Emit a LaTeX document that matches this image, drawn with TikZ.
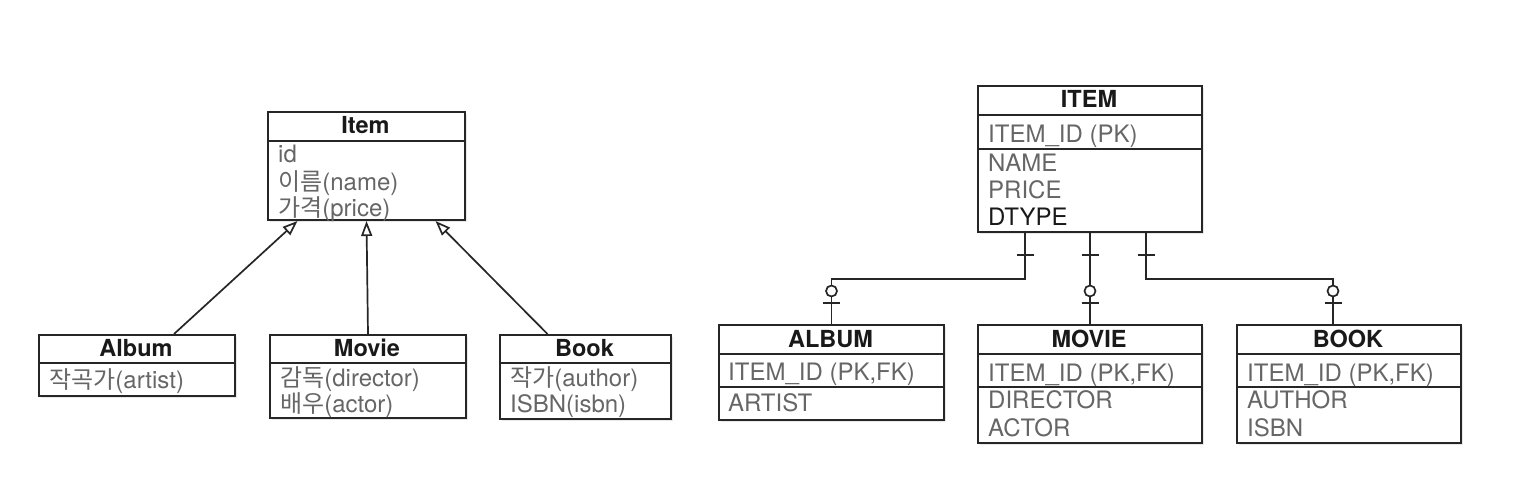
\documentclass[tikz,border=0pt]{standalone}
\usepackage{fontspec}
\setmainfont{TeX Gyre Heros}
\newfontfamily\kor{Noto Sans CJK KR}
\usetikzlibrary{arrows.meta, shadows}

\tikzset{
    tbl/.style={draw=black!85, line width=2pt, fill=white, anchor=north west, inner sep=0pt,
        drop shadow={opacity=0.18, shadow xshift=1.5pt, shadow yshift=-2pt}},
    rowline/.style={draw=black!85, line width=2pt},
    hdr/.style={anchor=base, inner sep=0pt, font=\fontsize{23.5}{28}\selectfont\bfseries, text=black!90},
    attr/.style={anchor=base west, inner sep=0pt, font=\fontsize{24}{28}\selectfont, text=black!60},
    gen/.style={draw=black!85, line width=1.7pt, -{Triangle[open, length=15pt, width=11pt, fill=white]}},
    rel/.style={draw=black!85, line width=1.7pt}
}

\begin{document}
\begin{tikzpicture}[x=1pt, y=-1pt]
        \useasboundingbox (0,0) rectangle (1532,480);
        \fill[white] (0,0) rectangle (1532,480);

        % class diagram
        \node[tbl, minimum width=197, minimum height=108] (item) at (267,111) {};
        \draw[rowline] (267,141) -- (464,141);
        \node[hdr] (itemh) at (365.5,133) {Item};
        \node[attr] (itema) at (278,162) {id};
        \node[attr] (itemb) at (278,190) {{\kor 이름}(name)};
        \node[attr] (itemc) at (278,216) {{\kor 가격}(price)};

        \node[tbl, minimum width=196, minimum height=61] (album) at (38,334) {};
        \draw[rowline] (38,363) -- (234,363);
        \node[hdr] (albumh) at (136,356) {Album};
        \node[attr] (albuma) at (49,388) {{\kor 작곡가}(artist)};

        \node[tbl, minimum width=196, minimum height=83] (movie) at (269,334) {};
        \draw[rowline] (269,363) -- (465,363);
        \node[hdr] (movieh) at (367,356) {Movie};
        \node[attr] (moviea) at (280,386) {{\kor 감독}(director)};
        \node[attr] (movieb) at (280,412) {{\kor 배우}(actor)};

        \node[tbl, minimum width=171, minimum height=84] (book) at (499,334) {};
        \draw[rowline] (499,363) -- (670,363);
        \node[hdr] (bookh) at (584.5,356) {Book};
        \node[attr] (booka) at (510,386) {{\kor 작가}(author)};
        \node[attr] (bookb) at (510,412) {ISBN(isbn)};

        \draw[gen] ([xshift=37pt]album.north) -- ([xshift=-69pt]item.south);
        \draw[gen] (movie.north) -- (item.south);
        \draw[gen] ([xshift=-38pt]book.north) -- ([xshift=69pt]item.south);

        % table diagram
        \node[tbl, minimum width=224, minimum height=146] (eitem) at (977,85) {};
        \draw[rowline] (977,115) -- (1201,115)
            (977,149) -- (1201,149);
        \node[hdr] (eitemh) at (1089,107) {ITEM};
        \node[attr] (eitema) at (988,142) {ITEM\_ID (PK)};
        \node[attr] (eitemb) at (988,171) {NAME};
        \node[attr] (eitemc) at (988,198) {PRICE};
        \node[attr, text=black!90] (eitemd) at (988,225) {DTYPE};

        \node[tbl, minimum width=225, minimum height=95] (ealbum) at (718,324) {};
        \draw[rowline] (718,354) -- (943,354)
            (718,387) -- (943,387);
        \node[hdr] (ealbumh) at (830.5,347) {ALBUM};
        \node[attr] (ealbuma) at (728,380) {ITEM\_ID (PK,FK)};
        \node[attr] (ealbumb) at (728,411) {ARTIST};

        \node[tbl, minimum width=224, minimum height=118] (emovie) at (977,324) {};
        \draw[rowline] (977,354) -- (1201,354)
            (977,387) -- (1201,387);
        \node[hdr] (emovieh) at (1089,347) {MOVIE};
        \node[attr] (emoviea) at (988,381) {ITEM\_ID (PK,FK)};
        \node[attr] (emovieb) at (988,408) {DIRECTOR};
        \node[attr] (emoviec) at (988,436) {ACTOR};

        \node[tbl, minimum width=224, minimum height=118] (ebook) at (1236,324) {};
        \draw[rowline] (1236,354) -- (1460,354)
            (1236,387) -- (1460,387);
        \node[hdr] (ebookh) at (1348,347) {BOOK};
        \node[attr] (ebooka) at (1247,381) {ITEM\_ID (PK,FK)};
        \node[attr] (ebookb) at (1247,408) {AUTHOR};
        \node[attr] (ebookc) at (1247,436) {ISBN};

        \coordinate (pA) at ([xshift=-65pt]eitem.south);
        \coordinate (pM) at (eitem.south);
        \coordinate (pB) at ([xshift=56pt]eitem.south);
        \coordinate (cA) at (ealbum.north);
        \coordinate (cM) at (emovie.north);
        \coordinate (cB) at ([xshift=-16pt]ebook.north);

        \draw[rel] (pA) -- ++(0,46) -| (cA)
            (pM) -- (cM)
            (pB) -- ++(0,46) -| (cB);
        \foreach \p in {pA, pM, pB}
            \draw[rel] ([xshift=-8.5pt, yshift=-22pt]\p) -- ++(17,0);
        \foreach \c in {cA, cM, cB} {
            \draw[rel] ([xshift=-8.5pt, yshift=21pt]\c) -- ++(17,0);
            \draw[rel, fill=white] ([yshift=33pt]\c) circle (5.5);
        }
    \end{tikzpicture}
\end{document}
